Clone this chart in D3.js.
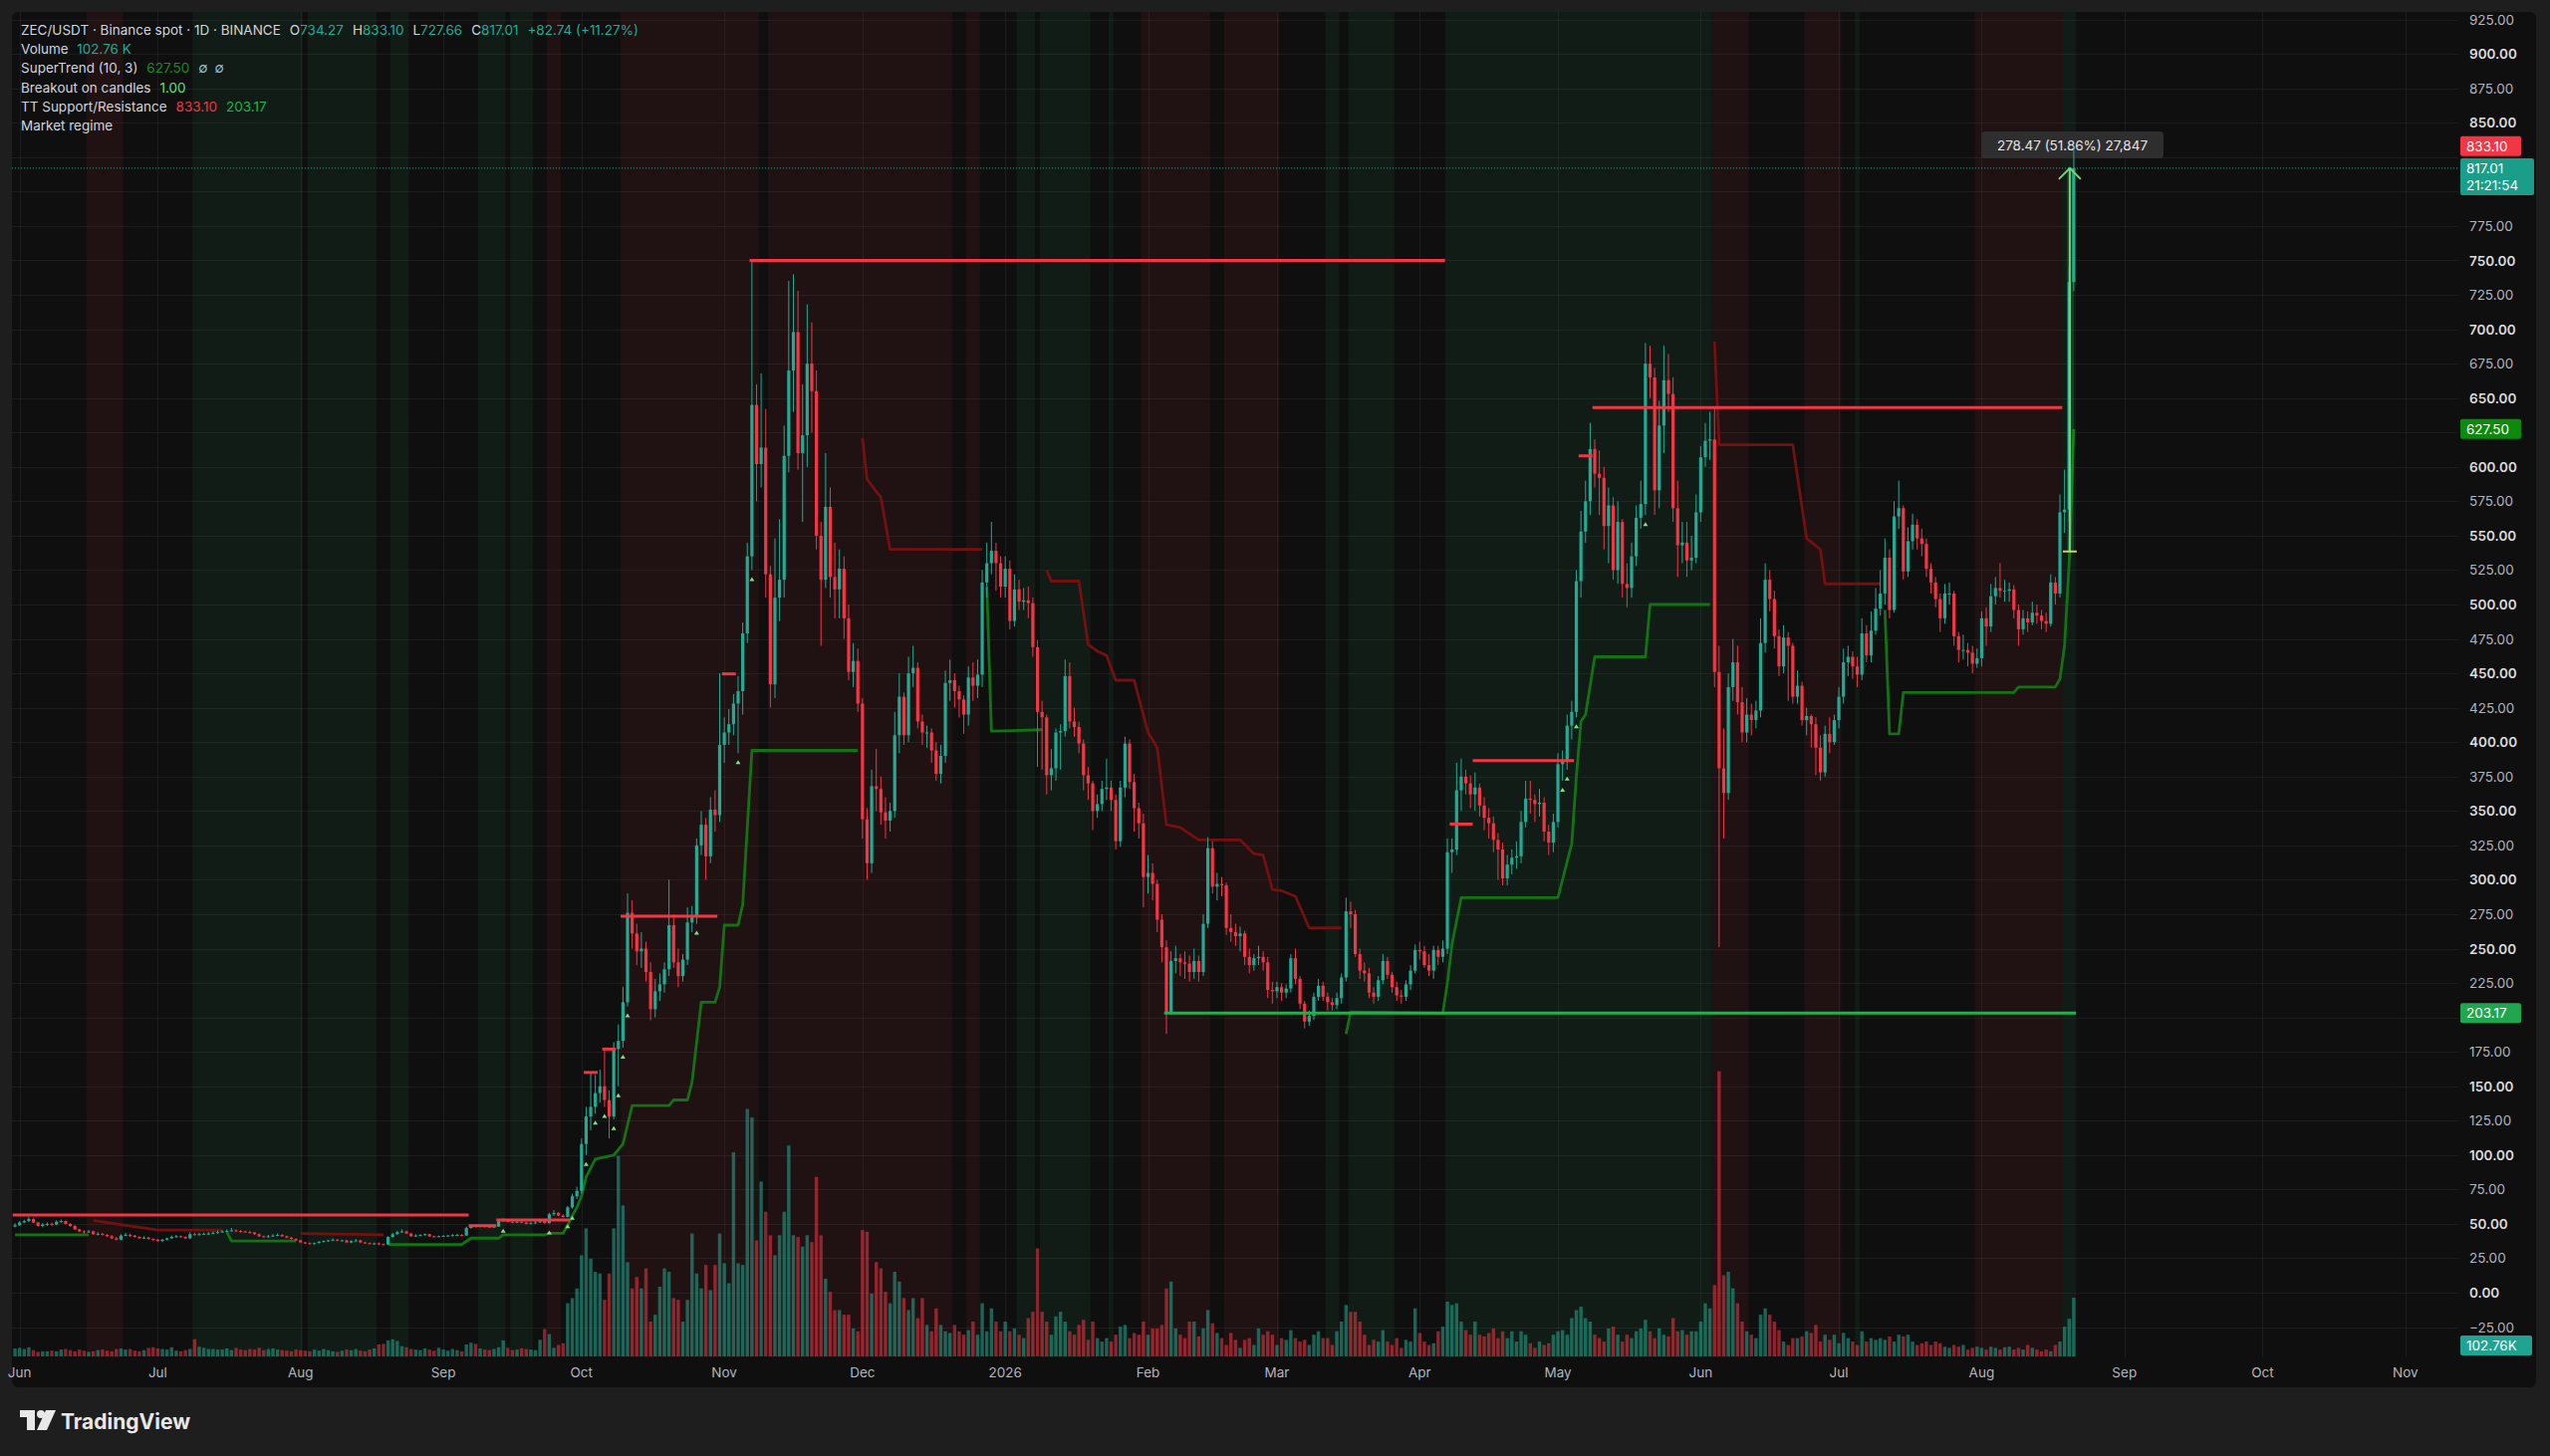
<!DOCTYPE html>
<html>
<head>
<meta charset="utf-8">
<script src="https://cdn.jsdelivr.net/npm/d3@7/dist/d3.min.js"></script>
<style>
  body { margin: 0; background: #1e1e1e; }
  svg { display: block; font-family: Inter, "Noto Sans", sans-serif; }
</style>
</head>
<body>
<svg id="chart" width="2560" height="1462"></svg>
<script>
// daily candles from 2025-05-31 to 2026-08-21, open = previous close
const firstDay = "2025-05-31";
const firstOpen = 48;

const closes = [
  // Jun 2025 (incl. May 31)
  49,51,52,53.5,51,48.5,49.5,50,49.5,51.5,52,50,48.5,46,44.5,44,44.5,42.5,42.8,42,41,39.5,38.5,41.5,42,41.5,40.5,39.5,40,39,38.5,
  // Jul
  37.5,38.5,39.5,40.5,41,40.5,39.5,42.5,42.3,42.5,42.8,43,43.5,44,44.5,45,45.3,44.8,44.5,44,43.8,42.5,41,40.5,41,41.5,42,41,40,39,38,
  // Aug
  36.5,36,35.5,36,37,37.5,38,38.5,37.8,38,36.5,37.5,38,36.5,36,35.5,35.8,35.2,35,40.5,42.5,44,44.5,43,41,41.5,42,42.5,41,40.8,41,
  // Sep
  41.2,41.5,41.8,42,41.5,47,48.5,48,48.5,48,47.5,48,52,52.5,51.5,51,51.5,51,50,50.5,51,52,50.5,57,58,56,55,62,70,74,
  // Oct
  108,128,135,145,150,140,128,177,183,211,276,261,248,250,233,206,219,224,235,267,240,230,242,269,273,325,340,317,351,347,398,
  // Nov
  407,413,428,437,479,535,645,602,614,522,442,505,518,608,670,698,610,623,675,655,550,518,571,520,511,526,490,451,459,428,
  // Dec
  344,312,368,366,349,343,350,405,433,405,450,454,415,407,407,394,377,390,443,445,437,431,420,447,441,449,516,530,539,530,513,
  // Jan 2026
  526,488,511,502,503,501,469,422,418,376,381,407,408,448,415,411,399,376,370,350,355,366,367,358,328,367,399,371,352,341,302,
  // Feb
  305,297,271,251,204,241,243,240,239,233,241,233,268,323,295,297,296,265,262,259,261,244,238,243,244,240,220,219,
  // Mar
  222,218,221,243,228,210,197,201,215,223,215,211,209,214,229,277,275,246,234,232,218,215,227,241,231,222,216,215,224,234,249,
  // Apr
  248,238,234,249,244,250,320,322,365,375,370,362,367,354,345,341,329,322,301,311,316,317,342,359,358,355,356,335,327,342,
  // May
  384,386,412,422,517,553,575,613,595,592,557,572,525,560,515,512,535,563,573,675,665,583,630,663,653,570,543,545,532,534,567,
  // Jun
  607,619,620,451,381,363,440,458,429,407,420,416,423,472,518,504,477,455,476,470,433,441,416,419,413,396,378,406,400,416,
  // Jul
  433,458,462,455,449,479,463,481,497,508,534,496,564,570,524,546,558,548,544,526,516,504,490,508,508,477,467,467,465,457,461,
  // Aug
  490,484,506,512,510,510,511,496,482,490,487,494,492,488,486,516,508,567,569,734.27,817.01
];

const highs = [
  50.5,52,53,55,54,51.5,50.5,51,51,52.5,53,52.5,50.5,49,46.5,45.5,45.5,45,44,43.5,42.5,42,40.5,42.5,43.5,43,42,41,41,40.5,39.5,
  39,39,40,41.5,42,41.5,41,44,43.5,43.5,43.5,44,44.5,45,45.5,46,47,46,45.5,45,45,44,43,41.5,42,42.5,43,42.5,41.5,40.5,39.5,
  38.5,37,36.5,36.5,37.5,38,38.5,39.5,39,38.5,38.5,38,39,38.5,37,36.5,36.5,36.5,35.8,41,43.5,45,46,45,43.5,42.5,42.5,43,42.8,41.5,41.5,
  41.8,42,42.5,42.8,42.5,48,49.5,49.5,49.5,49,48.5,48.8,53.5,54,53,52,52.5,52,51.5,51.5,52,53,52.5,58,60,58.5,57,63,72,77,
  112,135,160,158,162,178,147,182,195,222,290,285,268,262,255,240,228,232,240,300,275,250,246,280,281,330,350,345,360,365,450,
  418,424,435,448,487,545,750,660,668,642,528,548,562,630,735,740,728,660,718,705,670,560,610,585,545,540,535,500,472,468,
  432,352,380,395,375,360,356,422,450,436,462,470,458,420,412,410,400,398,452,460,450,441,434,455,458,460,525,545,560,545,535,
  535,532,522,518,512,513,505,474,430,420,395,410,413,460,458,425,415,402,382,372,362,372,388,372,362,372,404,402,377,356,348,
  318,312,300,275,256,248,252,246,248,245,250,245,275,331,328,305,302,298,275,268,266,263,250,246,252,248,244,226,
  226,225,224,246,250,230,212,205,218,228,226,218,214,218,232,287,284,278,250,240,236,222,230,246,244,233,226,220,227,238,253,
  255,252,246,252,252,256,330,330,385,388,380,376,378,370,360,352,346,334,327,318,322,328,350,372,372,362,366,360,340,348,
  392,394,420,430,525,568,590,632,620,612,600,585,578,575,562,530,545,572,590,690,688,672,648,688,682,665,590,560,560,550,580,
  615,632,640,644,470,410,450,475,470,440,432,428,430,490,530,525,510,482,485,480,472,452,444,425,420,418,405,412,418,420,
  440,468,470,466,462,490,485,495,512,525,548,540,575,590,572,556,566,562,555,548,530,520,508,515,516,510,480,478,472,470,468,
  495,498,515,520,530,518,516,514,500,496,495,502,500,496,494,522,520,580,598,745,833.1
];

const lows = [
  47.5,48.5,50.5,51.5,50.5,48,47.5,48.5,48.5,49,51,49.5,48,45.5,44,43,43.5,42,41.5,41.5,40.5,39,38,38,41,40.5,40,39,39,38.5,37.5,
  37,37,38,39,40,40,39,39,41.5,41.5,42,42,42.5,43,43.5,44,44.5,44,43.5,43.5,43,42,40.5,40,40,40.5,41,40.5,39.5,38.5,37.5,
  36,35.5,35,35,35.8,36.5,37,37.5,37.3,37.5,36,36,37.2,36,35.5,35,35,34.5,34.5,34.8,40,42,43.5,42.5,40.5,40.5,41.2,41.5,40.5,40.3,40.5,
  40.5,40.8,41,41.5,41,41.3,46.5,47.3,47.5,47.2,47,47.2,47.8,51.5,51,50.5,50.8,50.5,49.5,49.8,50.2,50.8,50,50.3,56,55.5,54.5,54.8,61,68,
  72,100,118,130,138,135,112,126,150,178,208,250,238,236,226,198,200,212,218,230,236,222,226,238,262,268,318,300,312,335,342,
  385,398,405,392,420,472,525,575,585,505,425,432,488,505,596,640,598,560,600,625,540,470,512,505,490,490,475,445,440,422,
  330,300,305,350,340,330,335,345,392,398,400,440,410,398,396,385,372,370,385,430,425,418,406,412,430,432,440,505,522,510,505,
  505,482,484,496,496,490,462,382,380,362,365,372,380,404,410,404,392,365,358,336,345,350,358,350,322,324,360,366,335,330,280,
  290,285,262,240,188,202,232,230,228,226,228,226,230,265,290,285,288,260,255,252,248,238,232,234,238,234,214,210,
  214,212,214,218,224,206,192,194,198,212,212,205,205,206,210,226,265,244,228,226,214,210,212,224,228,218,212,210,212,220,232,
  242,236,230,228,238,240,246,305,318,350,362,352,350,346,336,330,320,300,296,296,304,308,312,338,348,342,346,328,318,320,
  338,372,380,402,418,505,545,565,585,565,540,530,518,515,505,498,505,528,555,565,650,565,570,610,640,560,520,530,520,525,530,
  560,600,605,440,251,330,358,430,420,400,400,405,410,418,465,495,468,448,450,430,428,428,412,405,396,376,372,375,392,398,
  410,428,448,446,440,445,458,458,478,492,500,490,494,555,518,520,540,540,535,520,508,498,480,486,500,470,458,460,455,450,454,
  455,470,480,500,505,502,502,490,470,478,480,485,486,482,480,484,500,505,552,560,727.66
];

// volume in thousands
const volumes = [
  14,15,13,16,11,8,9,9,10,9,12,13,11,9,12,10,8,9,11,12,10,9,13,14,12,13,10,9,11,15,16,
  14,13,12,16,10,9,11,13,30,17,15,13,13,12,12,14,11,15,12,11,13,12,15,11,13,14,12,11,10,9,12,
  11,10,9,12,10,13,11,9,8,10,12,11,13,10,9,12,14,21,22,28,30,27,18,16,13,12,11,14,12,10,15,
  12,10,13,11,9,21,24,22,14,12,11,13,16,28,15,11,12,14,13,12,11,29,48,39,15,20,23,93,102,119,
  177,224,171,148,145,99,145,224,351,264,165,119,139,119,154,61,73,122,154,148,102,99,61,99,215,145,119,160,116,160,215,
  163,128,357,163,160,433,418,203,306,253,212,177,212,253,369,212,209,192,212,200,314,212,136,113,81,81,73,73,49,44,
  221,218,110,165,154,113,93,148,131,102,81,102,67,102,55,44,84,55,44,41,55,44,38,46,61,38,93,44,84,61,44,
  61,44,49,38,32,67,78,189,78,61,38,70,78,61,44,38,55,64,29,61,32,26,32,26,38,52,55,32,41,38,61,
  38,49,49,55,119,131,49,38,32,61,61,35,49,81,58,41,32,20,41,29,15,29,32,20,49,38,44,38,
  20,32,29,46,32,26,29,20,38,44,32,32,20,44,61,90,78,78,61,38,20,29,26,46,26,20,32,15,29,26,84,
  41,26,20,23,44,52,96,90,93,61,46,38,61,38,35,41,49,32,44,32,44,26,44,38,23,15,26,20,23,38,
  44,46,38,67,81,87,67,61,38,32,26,49,52,38,26,38,32,44,49,64,44,32,49,38,35,67,44,46,38,44,44,
  61,93,84,125,499,142,148,119,93,61,44,38,32,73,84,73,61,46,26,20,32,32,35,44,41,55,26,38,29,38,
  23,41,32,26,20,44,26,32,29,32,29,35,26,38,35,38,26,20,23,26,20,26,23,17,15,20,17,20,12,15,17,
  15,12,17,15,12,16,17,12,15,12,20,15,12,9,12,9,20,26,52,66,102.76
];

// market regime runs: [first bar, last bar, 1 bull / -1 bear]
const regimeRuns = [
  [16,23,-1],[39,62,1],[64,78,1],[82,85,1],[101,106,1],[108,112,1],[116,118,-1],
  [132,161,-1],[164,203,-1],[207,209,-1],[218,221,1],[223,233,1],[238,238,1],
  [245,259,-1],[263,274,-1],[285,287,1],[290,299,1],[311,368,1],[369,376,-1],
  [389,396,-1],[400,400,1],[426,444,-1],[445,447,1]
];

// TT support / resistance levels: [first bar, last bar, price]
const resistanceLevels = [
  [0,98,56.4],[99,104,48.7],[105,120,52.8],[124,126,160],[128,130,177],[132,152,273.5],
  [154,156,449.6],[160,310,750],[312,316,340.5],[317,338,386.5],[340,342,608],[343,444,643]
];
const supportLevels = [[250,447,203.17]];

// SuperTrend (10, 3): [bar, value]
const stUp = [
  [[0,42],[16,42]],
  [[46,44],[47,37.5],[61,37.5]],
  [[81,35],[97,35],[99,39.6],[105,39.6],[106,42],[115,42],[116,43.2],[119,43.2],[120,49],[121,56],[122,62],[123,70],
   [124,84],[126,97],[130,100],[132,108],[134,136],[142,136],[143,140],[146,140],[147,153],[149,211],[152,211],[153,222],
   [154,267],[157,267],[158,282],[160,394],[183,394]],
  [[211,513],[212,408],[223,409]],
  [[289,188],[290,204],[310,203],[311,225],[312,253],[314,287],[335,287],[336,300],[338,326],[339,375],[340,415],
   [341,420],[343,462],[354,462],[355,500],[368,500]],
  [[406,496],[407,406],[409,406],[410,436],[434,436],[435,440],[443,440],[444,446],[445,470],[446,530],[447,627.5]]
];
const stDown = [
  [[17,52.5],[20,51],[24,49],[31,45.5],[45,45.5]],
  [[62,43],[80,42]],
  [[184,621],[185,591],[187,582],[188,578],[190,540],[210,540]],
  [[224,525],[225,517],[231,517],[233,471],[235,466],[237,463],[239,445],[243,445],[246,407],[248,396],[250,340],
   [253,338],[257,329],[266,329],[269,319],[271,318],[273,293],[275,292],[278,288],[281,265],[288,265]],
  [[369,691],[370,616],[386,616],[389,548],[392,540],[393,515],[405,515]]
];

const breakoutBars = [106,116,120,121,124,126,128,130,131,132,133,148,157,160,336,337,339,354];

const priceTicks = [925,900,875,850,825,800,775,750,725,700,675,650,625,600,575,550,525,500,475,450,425,400,
  375,350,325,300,275,250,225,200,175,150,125,100,75,50,25,0,-25];
const monthTicks = ["2025-06-01","2025-07-01","2025-08-01","2025-09-01","2025-10-01","2025-11-01","2025-12-01",
  "2026-01-01","2026-02-01","2026-03-01","2026-04-01","2026-05-01","2026-06-01","2026-07-01","2026-08-01",
  "2026-09-01","2026-10-01","2026-11-01"];
const monthLabels = ["Jun","Jul","Aug","Sep","Oct","Nov","Dec","2026","Feb","Mar","Apr","May","Jun","Jul","Aug","Sep","Oct","Nov"];

const upColor = "#22ab94";
const downColor = "#f23645";
const textColor = "#d1d4dc";

let svg = d3.select("#chart");
let plot = { x0: 12, x1: 2468, y0: 12, y1: 1363 };

let x = d3.scaleUtc()
  .domain([new Date(Date.UTC(2025, 6, 1)), new Date(Date.UTC(2026, 10, 1))])
  .range([158.4, 2414.8]);
let y = d3.scaleLinear().domain([0, 925]).range([1298, 19.65]);
let yVol = d3.scaleLinear().domain([0, 1000]).range([1362, 788]);

let day0 = new Date(firstDay + "T00:00:00Z").getTime();
let xi = (i) => x(new Date(day0 + i * 864e5));
let step = xi(1) - xi(0);

let bars = closes.map((c, i) => {
  let o = i === 0 ? firstOpen : closes[i - 1];
  return { i: i, o: o, c: c, h: Math.max(highs[i], o, c), l: Math.min(lows[i], o, c), v: volumes[i] };
});
let last = bars[bars.length - 1];
let lastX = xi(last.i);

// pane
svg.append("rect").attr("x", 12).attr("y", 12).attr("width", 2534).attr("height", 1381)
  .attr("rx", 6).attr("fill", "#0f0f0f");

svg.append("defs").append("clipPath").attr("id", "clip")
  .append("rect").attr("x", plot.x0).attr("y", plot.y0)
  .attr("width", plot.x1 - plot.x0).attr("height", plot.y1 - plot.y0);

let g = svg.append("g").attr("clip-path", "url(#clip)");

// market regime
g.append("g").selectAll("rect").data(regimeRuns).enter().append("rect")
  .attr("x", (d) => xi(d[0]) - step / 2)
  .attr("width", (d) => xi(d[1]) - xi(d[0]) + step)
  .attr("y", plot.y0)
  .attr("height", plot.y1 - plot.y0)
  .attr("fill", (d) => (d[2] > 0 ? "rgba(40,170,90,0.085)" : "rgba(242,54,69,0.08)"));

// grid
g.append("g").selectAll("line").data(priceTicks).enter().append("line")
  .attr("x1", plot.x0).attr("x2", plot.x1)
  .attr("y1", (d) => Math.round(y(d)) + 0.5).attr("y2", (d) => Math.round(y(d)) + 0.5)
  .attr("stroke", "rgba(255,255,255,0.055)");
g.append("g").selectAll("line").data(monthTicks).enter().append("line")
  .attr("x1", (d) => Math.round(x(new Date(d + "T00:00:00Z"))) + 0.5)
  .attr("x2", (d) => Math.round(x(new Date(d + "T00:00:00Z"))) + 0.5)
  .attr("y1", plot.y0).attr("y2", plot.y1)
  .attr("stroke", "rgba(255,255,255,0.055)");

// measurement label (under the candles)
svg.append("rect").attr("x", 1989).attr("y", 132).attr("width", 183).attr("height", 27).attr("rx", 4)
  .attr("fill", "#2e2e2e");
svg.append("text").attr("x", 2080.5).attr("y", 150.5).attr("text-anchor", "middle")
  .attr("font-size", 13.5).attr("fill", "#e6e6e6").text("278.47 (51.86%) 27,847");

let g2 = svg.append("g").attr("clip-path", "url(#clip)");

// volume
g2.append("g").selectAll("rect").data(bars).enter().append("rect")
  .attr("x", (d) => xi(d.i) - 1.7)
  .attr("width", 3.4)
  .attr("y", (d) => yVol(d.v))
  .attr("height", (d) => yVol(0) - yVol(d.v))
  .attr("fill", (d) => (d.c >= d.o ? "rgba(34,171,148,0.55)" : "rgba(242,54,69,0.55)"));

// supertrend
let stLine = d3.line().x((d) => xi(d[0])).y((d) => y(d[1]));
g2.append("g").selectAll("path").data(stUp).enter().append("path")
  .attr("d", stLine).attr("fill", "none").attr("stroke", "#137213").attr("stroke-width", 2.8)
  .attr("stroke-linejoin", "round");
g2.append("g").selectAll("path").data(stDown).enter().append("path")
  .attr("d", stLine).attr("fill", "none").attr("stroke", "#741010").attr("stroke-width", 2.8)
  .attr("stroke-linejoin", "round");

// candles
let cg = g2.append("g");
cg.selectAll("line").data(bars).enter().append("line")
  .attr("x1", (d) => xi(d.i)).attr("x2", (d) => xi(d.i))
  .attr("y1", (d) => y(d.h)).attr("y2", (d) => y(d.l))
  .attr("stroke", (d) => (d.c >= d.o ? upColor : downColor))
  .attr("stroke-width", 1);
cg.selectAll("rect").data(bars).enter().append("rect")
  .attr("x", (d) => xi(d.i) - 1.6)
  .attr("width", 3.2)
  .attr("y", (d) => y(Math.max(d.o, d.c)))
  .attr("height", (d) => Math.max(1, Math.abs(y(d.o) - y(d.c))))
  .attr("fill", (d) => (d.c >= d.o ? upColor : downColor));

// TT support / resistance
let levelLine = (sel, data, color) => sel.append("g").selectAll("line").data(data).enter().append("line")
  .attr("x1", (d) => xi(d[0]) - step / 2).attr("x2", (d) => xi(d[1]) + step / 2)
  .attr("y1", (d) => y(d[2])).attr("y2", (d) => y(d[2]))
  .attr("stroke", color).attr("stroke-width", 3);
levelLine(g2, resistanceLevels, "#f23645");
levelLine(g2, supportLevels, "#22b14c");

// breakout markers
g2.append("g").selectAll("path").data(breakoutBars).enter().append("path")
  .attr("d", (i) => {
    let cx = xi(i), cy = y(bars[i].l) + 7;
    return "M" + (cx - 2.5) + "," + (cy + 4) + "L" + cx + "," + cy + "L" + (cx + 2.5) + "," + (cy + 4) + "Z";
  })
  .attr("fill", "#7ee08a");

// price line
g2.append("line").attr("x1", plot.x0).attr("x2", plot.x1)
  .attr("y1", y(last.c)).attr("y2", y(last.c))
  .attr("stroke", upColor).attr("stroke-width", 1).attr("stroke-dasharray", "1,2");

// breakout range arrow on the last candle
let ax = lastX - 4;
g2.append("rect").attr("x", ax - 3).attr("width", 7).attr("y", y(last.c)).attr("height", y(538.54) - y(last.c))
  .attr("fill", "rgba(80,200,100,0.18)");
g2.append("line").attr("x1", ax).attr("x2", ax).attr("y1", y(last.c)).attr("y2", y(538.54))
  .attr("stroke", "#6fd67a").attr("stroke-width", 2);
g2.append("path").attr("d", "M" + (ax - 11) + "," + (y(last.c) + 11) + "L" + ax + "," + y(last.c) + "L" + (ax + 11) + "," + (y(last.c) + 11))
  .attr("fill", "none").attr("stroke", "#6fd67a").attr("stroke-width", 2);
g2.append("line").attr("x1", ax - 7).attr("x2", ax + 7).attr("y1", y(538.54)).attr("y2", y(538.54))
  .attr("stroke", "#c8d86a").attr("stroke-width", 2);

// price tags on the axis: [centre y, width, colour, lines]
let tags = [
  [y(833.1), 61, "#f23645", ["833.10"]],
  [y(last.c), 74, "#1a9e89", [last.c.toFixed(2), "21:21:54"]],
  [y(627.5), 61, "#0d8a0d", ["627.50"]],
  [y(203.17), 61, "#1fa64e", ["203.17"]],
  [1351, 72, "#1fa393", [last.v.toFixed(2) + "K"]]
];
let tagBox = (t) => [t[0] - 10, t[0] - 10 + t[3].length * 17 + 3];

// price axis, labels hidden where a tag covers them
let hidden = (v) => tags.some((t) => {
  let b = tagBox(t);
  return y(v) + 6 > b[0] && y(v) - 6 < b[1];
});
svg.append("g").selectAll("text").data(priceTicks.filter((v) => !hidden(v))).enter().append("text")
  .attr("x", 2479).attr("y", (d) => y(d) + 5)
  .attr("font-size", 13.5)
  .attr("font-weight", (d) => (d % 50 === 0 ? 600 : 400))
  .attr("fill", (d) => (d % 50 === 0 ? "#dcdcdc" : "#b2b5be"))
  .text((d) => (d < 0 ? "\u2212" + Math.abs(d).toFixed(2) : d.toFixed(2)));

// time axis
svg.append("g").selectAll("text").data(monthTicks).enter().append("text")
  .attr("x", (d) => x(new Date(d + "T00:00:00Z")))
  .attr("y", 1383)
  .attr("text-anchor", "middle")
  .attr("font-size", 13.5)
  .attr("fill", "#b2b5be")
  .text((d, i) => monthLabels[i]);

tags.forEach((t) => {
  let b = tagBox(t);
  svg.append("rect").attr("x", 2470).attr("y", b[0]).attr("width", t[1]).attr("height", b[1] - b[0])
    .attr("rx", 2).attr("fill", t[2]);
  t[3].forEach((s, k) => {
    svg.append("text").attr("x", 2476).attr("y", t[0] + 5 + k * 17).attr("font-size", 13.5)
      .attr("fill", "#ffffff").text(s);
  });
});

// legend
let legendLine = (yb, parts) => {
  let t = svg.append("text").attr("x", 21).attr("y", yb).attr("font-size", 13.5).attr("fill", textColor);
  parts.forEach((p) => {
    t.append("tspan").attr("dx", p[2] || 0).attr("fill", p[1] || textColor).text(p[0]);
  });
};
let prev = bars[bars.length - 2].c;
let chg = last.c - prev;
legendLine(34.5, [
  ["ZEC/USDT \u00b7 Binance spot \u00b7 1D \u00b7 BINANCE"],
  ["O", textColor, 9], [last.o.toFixed(2), upColor],
  ["H", textColor, 9], [last.h.toFixed(2), upColor],
  ["L", textColor, 9], [last.l.toFixed(2), upColor],
  ["C", textColor, 9], [last.c.toFixed(2), upColor],
  ["+" + chg.toFixed(2) + " (+" + (chg / prev * 100).toFixed(2) + "%)", upColor, 9]
]);
legendLine(54, [["Volume"], [last.v.toFixed(2) + " K", upColor, 9]]);
legendLine(73.3, [["SuperTrend (10, 3)"], ["627.50", "#1f8a1f", 9], ["\u2205", "#b2b5be", 9], ["\u2205", "#b2b5be", 7]]);
legendLine(92.7, [["Breakout on candles"], ["1.00", "#5fe07a", 9]]);
legendLine(112, [["TT Support/Resistance"], ["833.10", "#f23645", 9], ["203.17", "#22b14c", 9]]);
legendLine(131.3, [["Market regime"]]);

// TradingView logo
let logo = svg.append("g").attr("fill", "#e8e8e8");
logo.append("path").attr("d", "M20,1416 H35 V1436 H27 V1423 H20 Z");
logo.append("circle").attr("cx", 41).attr("cy", 1420).attr("r", 4);
logo.append("path").attr("d", "M46,1416 H56 L47,1436 H37 Z");
svg.append("text").attr("x", 61).attr("y", 1435).attr("font-size", 21).attr("font-weight", 700)
  .attr("fill", "#e8e8e8").text("TradingView");
</script>
</body>
</html>
